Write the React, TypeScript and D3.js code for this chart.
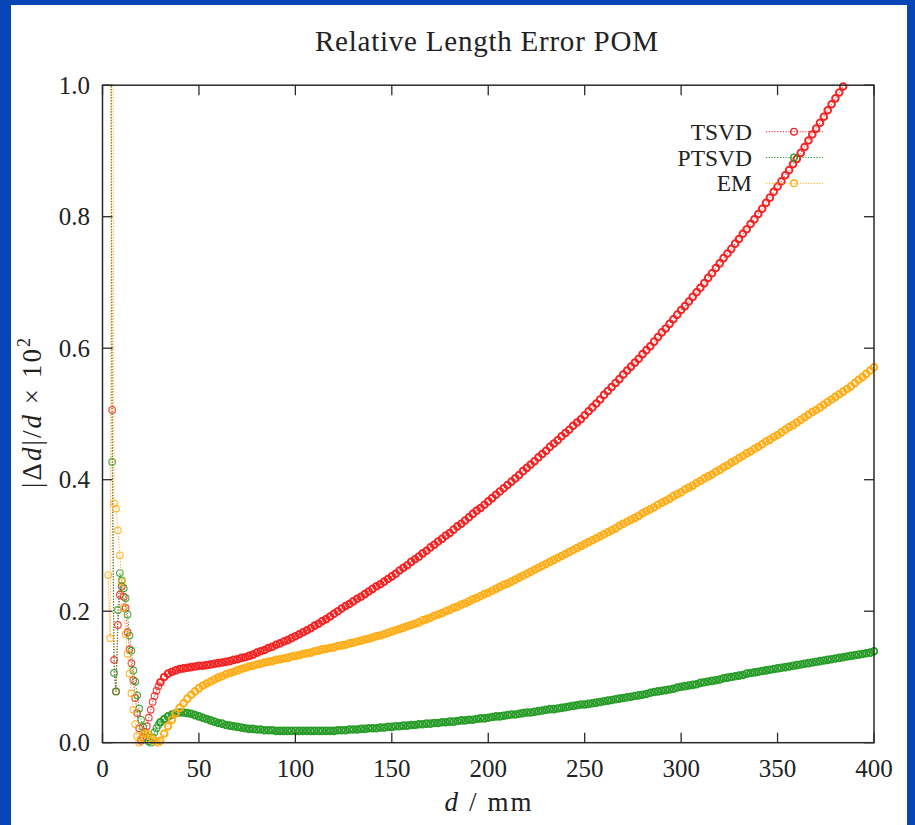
import React from 'react';
import * as d3 from 'd3';

// sampling grid of the data (mm): 1 mm near the source, 2 mm further out
const X_NEAR = d3.range(3, 30);
const X_FAR = d3.range(30, 401, 2);

const TSVD_NEAR = [3.0, 1.5, 0.506, 0.126, 0.078, 0.179, 0.225, 0.238, 0.222, 0.205, 0.168, 0.142, 0.121, 0.095, 0.068, 0.045, 0.022, 0.003, 0.008, 0.016, 0.025, 0.038, 0.050, 0.062, 0.071, 0.079, 0.086];
const TSVD_FAR = [
  0.092, 0.100, 0.105, 0.108, 0.110, 0.112, 0.113, 0.114, 0.115, 0.116,
  0.117, 0.117, 0.118, 0.119, 0.120, 0.121, 0.122, 0.123, 0.124, 0.126,
  0.127, 0.129, 0.130, 0.132, 0.134, 0.137, 0.139, 0.141, 0.144, 0.146,
  0.149, 0.151, 0.154, 0.156, 0.159, 0.162, 0.165, 0.168, 0.171, 0.174,
  0.178, 0.181, 0.185, 0.188, 0.192, 0.196, 0.200, 0.204, 0.208, 0.211,
  0.215, 0.219, 0.222, 0.226, 0.230, 0.234, 0.238, 0.241, 0.245, 0.249,
  0.253, 0.257, 0.262, 0.266, 0.270, 0.275, 0.279, 0.283, 0.288, 0.292,
  0.297, 0.301, 0.306, 0.310, 0.315, 0.319, 0.324, 0.329, 0.333, 0.338,
  0.343, 0.348, 0.353, 0.357, 0.362, 0.367, 0.372, 0.377, 0.382, 0.387,
  0.392, 0.397, 0.402, 0.407, 0.413, 0.418, 0.423, 0.428, 0.434, 0.439,
  0.444, 0.450, 0.455, 0.460, 0.466, 0.471, 0.476, 0.482, 0.487, 0.492,
  0.498, 0.504, 0.510, 0.516, 0.522, 0.529, 0.535, 0.541, 0.547, 0.553,
  0.560, 0.566, 0.572, 0.578, 0.584, 0.591, 0.597, 0.603, 0.610, 0.617,
  0.624, 0.630, 0.637, 0.644, 0.651, 0.658, 0.664, 0.671, 0.678, 0.685,
  0.692, 0.699, 0.707, 0.714, 0.722, 0.729, 0.737, 0.744, 0.751, 0.759,
  0.766, 0.774, 0.781, 0.789, 0.796, 0.804, 0.812, 0.821, 0.829, 0.838,
  0.846, 0.854, 0.863, 0.871, 0.880, 0.888, 0.897, 0.906, 0.916, 0.925,
  0.934, 0.943, 0.952, 0.962, 0.971, 0.980, 0.989, 0.998, 1.008, 1.017,
  1.027, 1.036, 1.046, 1.056, 1.065, 1.075,
];

const PTSVD_NEAR = [3.0, 1.5, 0.427, 0.106, 0.078, 0.202, 0.258, 0.247, 0.235, 0.220, 0.195, 0.163, 0.140, 0.110, 0.093, 0.072, 0.052, 0.035, 0.024, 0.015, 0.008, 0.002, 0.0, 0.008, 0.016, 0.022, 0.027];
const PTSVD_FAR = [
  0.031, 0.036, 0.040, 0.043, 0.045, 0.046, 0.046, 0.045, 0.044, 0.042,
  0.040, 0.038, 0.036, 0.034, 0.032, 0.030, 0.029, 0.027, 0.026, 0.025,
  0.024, 0.023, 0.022, 0.021, 0.021, 0.020, 0.020, 0.019, 0.019, 0.019,
  0.018, 0.018, 0.018, 0.018, 0.018, 0.018, 0.018, 0.018, 0.018, 0.018,
  0.018, 0.018, 0.018, 0.018, 0.018, 0.018, 0.019, 0.019, 0.019, 0.020,
  0.020, 0.020, 0.021, 0.021, 0.022, 0.022, 0.022, 0.023, 0.023, 0.024,
  0.024, 0.025, 0.025, 0.026, 0.026, 0.027, 0.027, 0.028, 0.028, 0.029,
  0.029, 0.030, 0.030, 0.031, 0.031, 0.032, 0.032, 0.033, 0.034, 0.034,
  0.035, 0.035, 0.036, 0.037, 0.037, 0.038, 0.039, 0.040, 0.040, 0.041,
  0.042, 0.043, 0.043, 0.044, 0.045, 0.046, 0.046, 0.047, 0.048, 0.049,
  0.050, 0.051, 0.051, 0.052, 0.053, 0.054, 0.055, 0.056, 0.057, 0.058,
  0.058, 0.059, 0.060, 0.061, 0.062, 0.063, 0.064, 0.065, 0.066, 0.067,
  0.068, 0.069, 0.070, 0.071, 0.072, 0.073, 0.074, 0.076, 0.077, 0.078,
  0.079, 0.080, 0.081, 0.082, 0.084, 0.085, 0.086, 0.087, 0.088, 0.089,
  0.091, 0.092, 0.093, 0.094, 0.095, 0.096, 0.098, 0.099, 0.100, 0.101,
  0.102, 0.103, 0.105, 0.106, 0.107, 0.108, 0.109, 0.110, 0.111, 0.112,
  0.113, 0.114, 0.115, 0.116, 0.117, 0.118, 0.119, 0.120, 0.121, 0.122,
  0.123, 0.124, 0.125, 0.126, 0.127, 0.128, 0.129, 0.130, 0.131, 0.132,
  0.133, 0.134, 0.135, 0.136, 0.137, 0.139,
];

const EM_NEAR = [0.255, 0.159, 1.6, 0.364, 0.356, 0.323, 0.285, 0.245, 0.205, 0.165, 0.135, 0.105, 0.075, 0.050, 0.028, 0.010, 0.0, 0.006, 0.013, 0.015, 0.014, 0.012, 0.009, 0.006, 0.003, 0.001, 0.0];
const EM_FAR = [
  0.003, 0.014, 0.025, 0.035, 0.045, 0.053, 0.060, 0.067, 0.073, 0.078,
  0.083, 0.087, 0.090, 0.093, 0.096, 0.099, 0.101, 0.104, 0.106, 0.108,
  0.110, 0.112, 0.114, 0.116, 0.117, 0.119, 0.120, 0.122, 0.123, 0.124,
  0.126, 0.127, 0.128, 0.129, 0.131, 0.132, 0.133, 0.135, 0.136, 0.137,
  0.139, 0.140, 0.142, 0.143, 0.144, 0.145, 0.147, 0.148, 0.149, 0.151,
  0.152, 0.154, 0.155, 0.157, 0.158, 0.160, 0.162, 0.163, 0.165, 0.167,
  0.169, 0.171, 0.173, 0.175, 0.177, 0.179, 0.181, 0.183, 0.186, 0.188,
  0.190, 0.193, 0.195, 0.197, 0.200, 0.202, 0.205, 0.207, 0.210, 0.212,
  0.215, 0.218, 0.220, 0.223, 0.226, 0.228, 0.231, 0.234, 0.237, 0.240,
  0.242, 0.245, 0.248, 0.251, 0.254, 0.257, 0.260, 0.263, 0.266, 0.269,
  0.272, 0.275, 0.278, 0.281, 0.284, 0.287, 0.290, 0.293, 0.296, 0.299,
  0.302, 0.305, 0.308, 0.311, 0.314, 0.317, 0.320, 0.323, 0.326, 0.330,
  0.333, 0.336, 0.339, 0.342, 0.345, 0.349, 0.352, 0.355, 0.358, 0.362,
  0.365, 0.368, 0.371, 0.375, 0.378, 0.381, 0.385, 0.388, 0.391, 0.395,
  0.398, 0.402, 0.405, 0.408, 0.412, 0.415, 0.419, 0.422, 0.426, 0.429,
  0.433, 0.436, 0.440, 0.443, 0.447, 0.450, 0.454, 0.458, 0.461, 0.465,
  0.468, 0.472, 0.476, 0.480, 0.483, 0.487, 0.491, 0.495, 0.499, 0.503,
  0.506, 0.510, 0.514, 0.518, 0.522, 0.526, 0.530, 0.534, 0.538, 0.542,
  0.547, 0.552, 0.556, 0.561, 0.566, 0.571,
];

const SERIES_NAMES = ['TSVD', 'PTSVD', 'EM'];
const SERIES_COLORS = ['#f31c1c', '#239a23', '#ffab10'];
const SERIES_VALUES = [
  TSVD_NEAR.concat(TSVD_FAR),
  PTSVD_NEAR.concat(PTSVD_FAR),
  EM_NEAR.concat(EM_FAR),
];

const X_TICKS = [0, 50, 100, 150, 200, 250, 300, 350, 400];
const Y_TICKS = [0, 0.2, 0.4, 0.6, 0.8, 1.0];
const TITLE = 'Relative Length Error POM';

export default function App() {
  const W = 915;
  const H = 825;
  const x = d3.scaleLinear().domain([0, 400]).range([102.5, 874]);
  const y = d3.scaleLinear().domain([0, 1]).range([742.7, 85.2]);
  const xs = X_NEAR.concat(X_FAR);
  const nNear = X_NEAR.length;
  const line = d3
    .line<[number, number]>()
    .x((d) => x(d[0]))
    .y((d) => y(d[1]));
  const font = "'Liberation Serif', 'Times New Roman', serif";
  const tickLen = 10;
  const frame = '#2a2a2a';

  return (
    <svg
      width={W}
      height={H}
      style={{ position: 'absolute', left: 0, top: 0 }}
      fontFamily={font}
    >
      <rect width={W} height={H} fill="#0846b8" />
      <rect x={11} y={5} width={896} height={H - 5} fill="#ffffff" />
      <defs>
        <clipPath id="plotClip">
          <rect x={x(0)} y={y(1)} width={x(400) - x(0)} height={y(0) - y(1)} />
        </clipPath>
      </defs>

      <text
        x={486.5}
        y={51}
        fontSize={29}
        textAnchor="middle"
        fill="#222"
        textLength={343}
        lengthAdjust="spacing"
      >
        {TITLE}
      </text>

      {SERIES_NAMES.map((name, si) => {
        const pts: [number, number][] = xs.map((xv, i) => [xv, SERIES_VALUES[si][i]]);
        const color = SERIES_COLORS[si];
        return (
          <g key={name}>
            <path
              d={line(pts) || ''}
              fill="none"
              stroke={color}
              strokeWidth={1}
              strokeDasharray="1.2,1.6"
              clipPath="url(#plotClip)"
            />
            {pts.map((p, i) =>
              p[1] <= 1.0 ? (
                <circle
                  key={i}
                  cx={x(p[0])}
                  cy={y(p[1])}
                  r={3.3}
                  fill="none"
                  stroke={color}
                  strokeWidth={i < nNear ? 1.2 : 2.0}
                  strokeOpacity={i < nNear ? 0.8 : 0.95}
                />
              ) : null
            )}
          </g>
        );
      })}

      {/* frame */}
      <rect
        x={x(0)}
        y={y(1)}
        width={x(400) - x(0)}
        height={y(0) - y(1)}
        fill="none"
        stroke={frame}
        strokeWidth={1.5}
      />
      {X_TICKS.map((t) => (
        <g key={'xt' + t}>
          <line x1={x(t)} x2={x(t)} y1={y(0)} y2={y(0) - tickLen} stroke={frame} strokeWidth={1.3} />
          <line x1={x(t)} x2={x(t)} y1={y(1)} y2={y(1) + tickLen} stroke={frame} strokeWidth={1.3} />
          <text x={x(t)} y={y(0) + 34} fontSize={25} textAnchor="middle" fill="#222">
            {t}
          </text>
        </g>
      ))}
      {Y_TICKS.map((t) => (
        <g key={'yt' + t}>
          <line x1={x(0)} x2={x(0) + tickLen} y1={y(t)} y2={y(t)} stroke={frame} strokeWidth={1.3} />
          <line x1={x(400)} x2={x(400) - tickLen} y1={y(t)} y2={y(t)} stroke={frame} strokeWidth={1.3} />
          <text x={90} y={y(t) + 8.5} fontSize={25} textAnchor="end" fill="#222">
            {t.toFixed(1)}
          </text>
        </g>
      ))}

      {/* axis labels */}
      <text x={488} y={811} fontSize={27} textAnchor="middle" fill="#222" textLength={87} lengthAdjust="spacing">
        <tspan fontStyle="italic">d</tspan>
        <tspan> / mm</tspan>
      </text>
      <text
        transform="translate(41,413) rotate(-90)"
        fontSize={27}
        textAnchor="middle"
        fill="#222"
        textLength={150}
        lengthAdjust="spacing"
      >
        <tspan>|Δ</tspan>
        <tspan fontStyle="italic">d</tspan>
        <tspan>|/</tspan>
        <tspan fontStyle="italic">d</tspan>
        <tspan> × 10</tspan>
        <tspan fontSize={18} dy={-11}>2</tspan>
      </text>

      {/* legend */}
      {SERIES_NAMES.map((name, si) => {
        const ly = 131.7 + si * 25.8;
        const color = SERIES_COLORS[si];
        return (
          <g key={'lg' + name}>
            <text x={752} y={ly + 8} fontSize={23.5} textAnchor="end" fill="#222">
              {name}
            </text>
            <line
              x1={766}
              x2={823}
              y1={ly}
              y2={ly}
              stroke={color}
              strokeWidth={1}
              strokeDasharray="1.2,1.6"
            />
            <circle cx={794} cy={ly} r={3.3} fill="none" stroke={color} strokeWidth={1.3} />
          </g>
        );
      })}
    </svg>
  );
}
